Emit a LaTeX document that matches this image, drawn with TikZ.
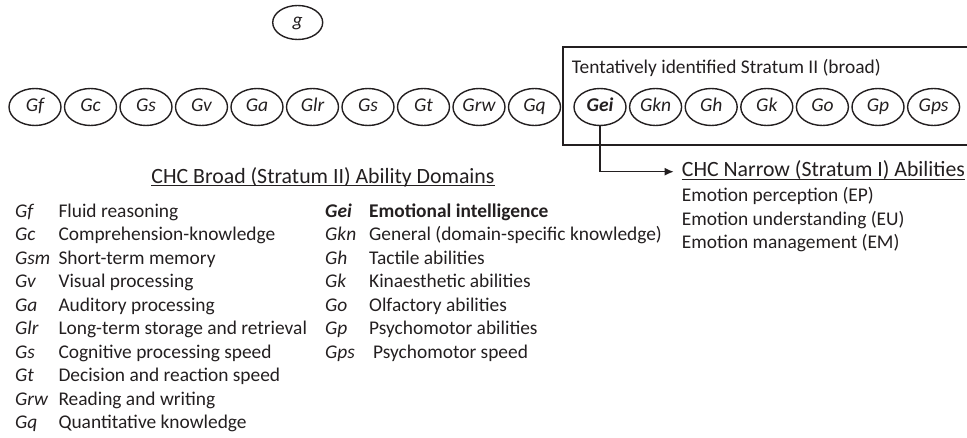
\documentclass[tikz,border=0pt]{standalone}
\usepackage{fontspec}
\setmainfont{Carlito}
\usetikzlibrary{shapes.geometric,arrows.meta}
\definecolor{ink}{HTML}{231F20}
\begin{document}
\begin{tikzpicture}[x=1pt,y=-1pt,
  ab/.style={draw=ink,line width=1.4pt,ellipse,minimum width=52pt,minimum height=37pt,inner sep=0pt,text height=12pt,text depth=3pt,font=\fontsize{19.5}{22}\selectfont\itshape,text=ink},
  txt/.style={anchor=base west,inner sep=0pt,font=\fontsize{19.4}{22}\selectfont,text=ink},
  abbr/.style={txt,font=\fontsize{19.4}{22}\selectfont\itshape},
  head/.style={anchor=base,inner sep=0pt,font=\fontsize{21.8}{24}\selectfont,text=ink},
  uline/.style={draw=ink,line width=1.3pt}]
\useasboundingbox (0,0) rectangle (967,438);
% g
\node[ab,minimum width=50pt,minimum height=34pt] (g) at (297.7,22.5) {g};
% broad abilities row
\foreach \t [count=\i from 0] in {Gf,Gc,Gs,Gv,Ga,Glr,Gs,Gt,Grw,Gq}{
  \node[ab] (b\i) at ({35+55.5*\i},107) {\t};
}
% tentative box
\draw[ink,line width=1.6pt] (975,47) -- (563,47) -- (563,145) -- (975,145);
\node[txt] (boxlab) at (571.7,73.3) {Tentatively identified Stratum II (broad)};
\node[ab] (gei) at (600,107) {\bfseries Gei};
\foreach \t [count=\i from 1] in {Gkn,Gh,Gk,Go,Gp,Gps}{
  \node[ab] (t\i) at ({600+55.6*\i},107) {\t};
}
% headings
\node[head] (hbroad) at (323,183.3) {CHC Broad (Stratum II) Ability Domains};
\draw[uline] ([yshift=-2.5pt]hbroad.base west) -- ([yshift=-2.5pt]hbroad.base east);
\node[head,anchor=base west] (hnar) at (681.7,176.7) {CHC Narrow (Stratum I) Abilities};
\draw[uline] ([yshift=-2.5pt]hnar.base west) -- ([yshift=-2.5pt]hnar.base east);
% arrow
\draw[ink,line width=1.4pt,-{Latex[length=9pt,width=8pt]}] (gei.south) |- ([xshift=-8pt]hnar.west |- 0,171.7) coordinate (arrtip);
% narrow items
\node[txt] (n1) at (681.7,201.7) {Emotion perception (EP)};
\node[txt] (n2) at (681.7,225.2) {Emotion understanding (EU)};
\node[txt] (n3) at (681.7,248.7) {Emotion management (EM)};
% left list
\foreach \a/\d [count=\i from 0] in {Gf/Fluid reasoning,Gc/Comprehension-knowledge,Gsm/Short-term memory,Gv/Visual processing,Ga/Auditory processing,Glr/Long-term storage and retrieval,Gs/Cognitive processing speed,Gt/Decision and reaction speed,Grw/Reading and writing,Gq/Quantitative knowledge}{
  \node[abbr] (la\i) at (15,{217.3+23.5*\i}) {\a};
  \node[txt] (ld\i) at (58.3,{217.3+23.5*\i}) {\d};
}
% right list
\node[abbr,font=\fontsize{19.4}{22}\selectfont\bfseries\itshape] (ra0) at (325,217.3) {Gei};
\node[txt,font=\fontsize{19.4}{22}\selectfont\bfseries] (rd0) at (369,217.3) {Emotional intelligence};
\foreach \a/\d [count=\i from 1] in {Gkn/General (domain-specific knowledge),Gh/Tactile abilities,Gk/Kinaesthetic abilities,Go/Olfactory abilities,Gp/Psychomotor abilities}{
  \node[abbr] (ra\i) at (325,{217.3+23.5*\i}) {\a};
  \node[txt] (rd\i) at (369,{217.3+23.5*\i}) {\d};
}
\node[abbr] (ra6) at (325,{217.3+23.5*6}) {Gps};
\node[txt] (rd6) at (373,{217.3+23.5*6}) {Psychomotor speed};
\end{tikzpicture}
\end{document}
